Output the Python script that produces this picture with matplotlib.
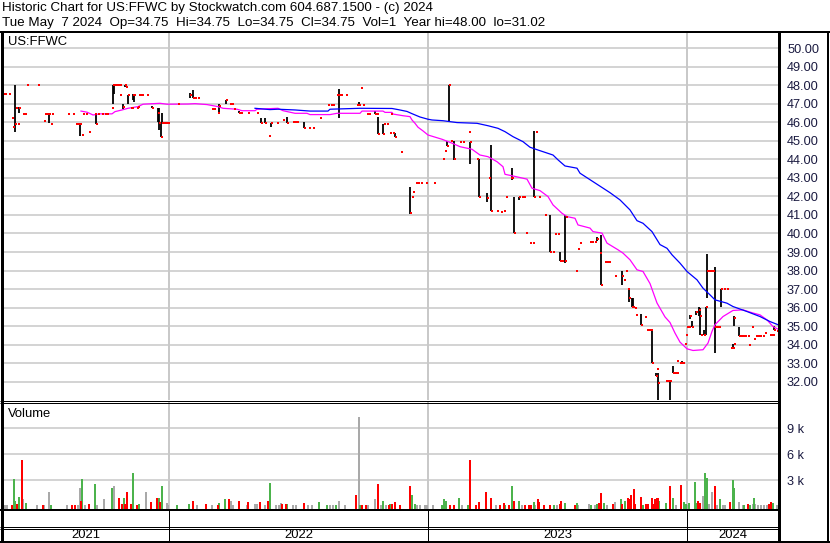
import matplotlib
matplotlib.use("Agg")
import matplotlib.pyplot as plt
from matplotlib.lines import Line2D

plt.rcParams['font.family'] = ['Liberation Sans', 'DejaVu Sans']

# ---------------- data (x = trading-day index) ----------------
title_line1 = "Historic Chart for US:FFWC by Stockwatch.com 604.687.1500 - (c) 2024"
title_line2 = "Tue May  7 2024  Op=34.75  Hi=34.75  Lo=34.75  Cl=34.75  Vol=1  Year hi=48.00  lo=31.02"
symbol = "US:FFWC"

years = ["2021", "2022", "2023", "2024"]
year_starts = [3, 169, 428, 687]
year_end = 778

price_ticks = [32, 33, 34, 35, 36, 37, 38, 39, 40, 41, 42, 43, 44, 45, 46, 47, 48, 49, 50]
vol_ticks = [3, 6, 9]

# days with a single trade price (high = low = close)
tick_day = [3, 5, 9, 12, 13, 16, 18, 23, 25, 27, 38, 44, 45, 47, 51, 52, 68, 73, 76, 78,
            82, 83, 86, 89, 95, 98, 102, 105, 107, 112, 116, 118, 120, 120, 126, 131, 132,
            137, 138, 139, 140, 142, 147, 164, 166, 168, 178, 195, 198, 212, 214, 218, 230,
            232, 234, 241, 248, 257, 269, 277, 283, 293, 295, 297, 309, 313, 320, 328, 331,
            333, 337, 341, 346, 357, 361, 363, 367, 369, 377, 384, 387, 391, 390, 393, 401,
            412, 413, 416, 418, 421, 426, 434, 443, 445, 451, 460, 463, 469, 477, 489, 497,
            501, 504, 506, 511, 522, 524, 526, 530, 533, 536, 539, 545, 553, 555, 558, 562,
            566, 576, 578, 580, 590, 592, 595, 600, 605, 607, 609, 615, 624, 626, 628, 635,
            636, 645, 647, 649, 651, 657, 666, 668, 675, 677, 677, 680, 683, 685, 686, 687,
            689, 701, 709, 711, 713, 717, 719, 724, 727, 731, 734, 741, 743, 745, 748, 749,
            752, 754, 756, 758, 760, 763, 765, 770, 772, 773, 777]
tick_close = [47.5, 47.5, 47.5, 46.25, 45.76, 46.77, 45.88, 46.46, 46.46, 48.0, 48.0, 46.08,
              46.46, 46.46, 45.88, 46.46, 46.46, 46.46, 45.88, 45.88, 45.31, 46.46, 46.46,
              45.49, 46.46, 46.46, 46.46, 46.46, 46.46, 46.77, 48.0, 48.0, 48.0, 47.47, 47.9,
              46.75, 46.77, 46.75, 46.8, 47.47, 47.47, 47.47, 47.47, 45.98, 45.98, 45.98,
              47.0, 47.32, 47.32, 46.71, 46.71, 46.48, 46.97, 46.97, 46.7, 46.48, 46.48,
              46.48, 45.26, 45.98, 46.12, 46.01, 46.01, 46.01, 45.69, 45.69, 46.25, 46.93,
              46.93, 46.93, 47.47, 47.47, 47.47, 46.93, 47.86, 46.93, 46.44, 46.44, 46.44,
              45.89, 45.89, 46.44, 45.4, 45.4, 44.41, 41.99, 42.24, 42.74, 42.74, 42.74,
              42.74, 42.74, 44.0, 44.47, 45.0, 44.95, 44.95, 45.49, 44.02, 42.98, 41.23,
              41.15, 41.23, 41.99, 42.98, 41.95, 41.95, 40.02, 39.51, 39.51, 45.49, 41.99,
              40.97, 38.99, 39.98, 39.98, 38.49, 40.88, 38.0, 39.17, 39.51, 39.53, 39.53,
              39.53, 38.97, 38.47, 38.47, 38.47, 37.72, 37.5, 37.98, 37.0, 35.97, 35.61,
              35.49, 34.77, 34.77, 34.77, 32.7, 32.02, 32.02, 32.5, 32.5, 33.1, 33.0, 33.0,
              34.03, 34.5, 34.98, 34.98, 34.54, 38.0, 38.0, 38.0, 34.98, 34.98, 37.0, 37.0,
              33.82, 34.05, 34.48, 34.48, 34.48, 34.48, 34.0, 34.98, 34.3, 34.48, 34.48,
              34.48, 34.48, 34.63, 34.54, 34.54, 34.5, 34.75]

# days with a high-low range
bar_day = [15, 19, 49, 80, 96, 113, 114, 123, 125, 128, 133, 134, 152, 158, 159, 161, 162,
           190, 193, 219, 226, 239, 261, 265, 271, 287, 304, 339, 359, 375, 378, 383, 395,
           410, 449, 447, 454, 470, 479, 487, 491, 512, 514, 519, 534, 550, 560, 565, 597,
           601, 622, 629, 632, 633, 641, 652, 656, 658, 670, 673, 682, 690, 692, 696, 699,
           700, 704, 706, 707, 715, 721, 733, 734, 739, 774]
bar_high = [48.0, 46.8, 46.46, 45.88, 46.46, 48.0, 48.0, 47.0, 48.0, 47.47, 47.5, 47.5, 46.9,
            46.77, 46.77, 45.98, 46.48, 47.6, 47.74, 46.97, 47.2, 46.6, 46.2, 46.2, 45.98,
            46.3, 46.0, 47.77, 47.1, 46.6, 46.3, 45.89, 45.4, 42.5, 48.0, 45.0, 45.0, 44.95,
            44.02, 42.2, 44.77, 43.52, 41.99, 41.99, 45.53, 41.0, 39.02, 41.0, 39.8, 39.93,
            38.0, 37.0, 36.53, 36.53, 35.67, 34.77, 32.5, 32.47, 32.02, 32.83, 33.1, 35.6,
            35.3, 35.8, 36.03, 35.97, 34.8, 36.03, 38.9, 38.18, 37.0, 34.05, 35.56, 34.98,
            35.0]
bar_low = [45.45, 46.5, 45.95, 45.25, 45.88, 47.0, 47.5, 46.7, 47.9, 47.0, 47.2, 47.1, 46.75,
           46.03, 45.6, 45.22, 45.98, 47.3, 47.32, 46.48, 46.97, 46.48, 45.98, 45.98, 45.76,
           45.98, 45.69, 46.25, 46.93, 46.44, 45.38, 45.38, 45.22, 41.06, 46.03, 44.7, 43.97,
           43.73, 41.99, 41.72, 41.23, 42.89, 40.02, 41.8, 41.99, 38.99, 38.49, 38.4, 39.6,
           37.23, 37.23, 36.3, 36.03, 36.0, 35.08, 33.0, 32.34, 31.02, 31.02, 32.47, 32.95,
           35.4, 34.98, 35.6, 35.53, 34.53, 34.54, 34.54, 36.5, 33.55, 36.03, 33.82, 35.02,
           34.48, 34.8]
bar_close = [45.88, 46.77, 46.46, 45.88, 45.88, 48.0, 48.0, 46.8, 48.0, 47.47, 47.47, 47.47,
             46.75, 46.48, 45.94, 45.22, 45.98, 47.47, 47.32, 46.9, 47.2, 46.48, 45.98, 45.98,
             45.98, 45.98, 45.69, 47.47, 46.93, 46.44, 45.38, 45.38, 45.22, 41.09, 48.0, 44.7,
             44.0, 44.95, 41.99, 41.9, 41.23, 42.98, 40.02, 41.95, 41.99, 38.99, 38.49, 38.49,
             39.71, 37.23, 37.72, 36.5, 36.03, 36.03, 35.08, 33.0, 32.34, 31.96, 32.02, 32.5,
             33.0, 35.53, 34.98, 35.79, 35.88, 35.53, 34.54, 36.03, 38.0, 34.98, 37.0, 33.82,
             35.45, 34.48, 34.8]

# moving averages
ma_fast_day = [81, 87, 93, 100, 112, 115, 122, 128, 138, 143, 160, 167, 188, 195, 207, 218,
               223, 237, 242, 255, 257, 278, 283, 295, 307, 310, 330, 337, 360, 362, 383, 385,
               392, 393, 403, 410, 412, 415, 418, 423, 428, 442, 452, 460, 472, 480, 488, 497,
               503, 505, 513, 527, 532, 540, 548, 553, 562, 567, 575, 578, 590, 593, 602, 607,
               618, 623, 630, 637, 643, 650, 657, 665, 670, 675, 680, 687, 693, 703, 708, 712,
               715, 723, 733, 743, 753, 760, 767, 773, 778]
ma_fast_val = [46.6, 46.54, 46.39, 46.45, 46.45, 46.57, 46.66, 46.75, 46.84, 46.97, 47.02,
               46.97, 46.98, 47.0, 46.95, 46.84, 46.75, 46.7, 46.62, 46.62, 46.7, 46.75, 46.62,
               46.48, 46.48, 46.41, 46.41, 46.48, 46.48, 46.6, 46.6, 46.53, 46.53, 46.44, 46.35,
               46.3, 46.12, 45.94, 45.73, 45.53, 45.31, 45.08, 44.87, 44.68, 44.54, 44.23, 44.14,
               43.87, 43.6, 43.19, 43.1, 42.93, 42.44, 42.31, 41.99, 41.54, 41.09, 40.91, 40.82,
               40.46, 40.29, 40.1, 40.02, 39.48, 39.12, 38.94, 38.58, 38.04, 37.95, 37.3, 36.25,
               35.5, 35.2, 34.63, 34.14, 33.78, 33.69, 33.73, 34.09, 34.72, 35.08, 35.52, 35.85,
               35.88, 35.71, 35.61, 35.34, 34.98, 34.84]
ma_slow_day = [255, 270, 278, 295, 310, 328, 330, 360, 392, 398, 407, 412, 420, 428, 432, 443,
               457, 477, 488, 498, 505, 513, 523, 530, 538, 553, 558, 565, 577, 580, 590, 600,
               610, 620, 630, 637, 643, 652, 660, 667, 672, 680, 687, 697, 703, 710, 715, 727,
               733, 747, 760, 770, 778]
ma_slow_val = [46.75, 46.68, 46.7, 46.66, 46.6, 46.6, 46.7, 46.75, 46.74, 46.68, 46.58, 46.46,
               46.28, 46.16, 46.12, 46.08, 45.98, 45.94, 45.81, 45.67, 45.49, 45.22, 44.95,
               44.65, 44.5, 44.23, 43.97, 43.64, 43.52, 43.25, 42.9, 42.55, 42.2, 41.81, 41.27,
               40.69, 40.55, 40.1, 39.4, 39.2, 38.85, 38.4, 37.95, 37.5, 37.05, 36.69, 36.42,
               36.24, 36.06, 35.79, 35.52, 35.25, 35.08]

# volume (thousands of shares), split by day direction
vol_up_day = [14, 15, 19, 26, 51, 82, 95, 112, 124, 133, 139, 159, 162, 177, 189, 219, 225,
              270, 287, 319, 327, 336, 360, 383, 390, 412, 415, 442, 444, 446, 459, 468, 505,
              512, 519, 534, 554, 565, 577, 591, 597, 604, 621, 625, 643, 659, 666, 673, 684,
              686, 689, 695, 697, 705, 707, 720, 733, 734, 744, 750, 754, 773]
vol_up_k = [3.1, .6, 1.1, .4, .2, 3.2, 2.6, 2.1, 1.0, 3.8, .3, 1.0, 2.3, .15, .3, .4, .9,
            2.7, .3, .5, .2, .15, .15, .65, .3, 1.3, .3, .2, .8, .65, 1.0, .2, .15,
            2.3, .65, .5, .2, .4, .4, .2, .3, .4, .9, .65, .2, .6, .4, 1.0, .5,
            .3, .4, 2.8, .4, 3.9, 3.3, .9, 3.0, 2.15, .15, .2, 1.0, .4]
vol_down_day = [12, 17, 22, 43, 72, 75, 81, 89, 119, 122, 125, 127, 131, 137, 151, 157, 160,
                193, 206, 218, 229, 239, 248, 260, 268, 282, 286, 304, 356, 362, 366, 378,
                389, 392, 395, 400, 410, 450, 454, 470, 476, 479, 486, 491, 500, 504, 509,
                514, 525, 529, 531, 538, 539, 544, 550, 560, 561, 575, 599, 601, 613, 622,
                628, 629, 631, 634, 635, 641, 646, 648, 652, 653, 655, 657, 658, 670, 681,
                698, 700, 715, 730, 748, 769, 771]
vol_down_k = [.2, .25, 5.4, .2, .2, .2, .6, .3, 1.0, .3, .3, 1.6, .3, .2, .5, 1.0, .5,
              .6, .3, .15, .8, .6, .5, .5, .6, .3, .3, .4, 1.3, .15, .15, 2.6,
              .15, .3, .5, .15, 2.3, .2, .2, 5.4, .2, .5, 1.7, 1.0, .15, .4, .2,
              .65, .15, .15, .15, .9, .5, .2, .2, .3, .65, .2, .4, 1.5, .3, .25,
              1.0, .8, 1.35, 2.0, .3, 1.1, .3, .3, 1.0, .3, .8, 1.0, 1.0, 2.4, 2.5,
              .65, .4, 2.4, .5, .3, .3, .5]
vol_flat_day = [1, 3, 5, 7, 23, 37, 44, 49, 67, 78, 80, 85, 97, 104, 114, 146, 167, 168, 197,
                212, 231, 233, 247, 255, 257, 265, 276, 279, 281, 293, 296, 308, 312, 330,
                333, 339, 345, 359, 368, 375, 381, 386, 417, 420, 425, 427, 433, 462, 496,
                522, 535, 557, 578, 589, 595, 607, 615, 676, 687, 703, 709, 712, 717, 723,
                725, 739, 743, 753, 755, 758, 761, 764, 767, 777]
vol_flat_k = [.15, .15, .15, .15, .8, .15, .15, 1.7, .15, .2, 2.1, .15, .15, .9, 2.4, 1.7, .4,
              .2, .15, .2, .6, .15, .2, .3, .3, .15, .2, .2, .4, .15, .15, .15, .15, .15,
              .15, .65, .15, 10.35, .15, .8, .15, .15, .15, .15, .15, .15, .15, .15, .2,
              .15, .15, .15, .2, .3, .2, .15, .5, .15, .15, 1.2, .3, 1.6, .15, .15,
              .15, .5, .15, .3, .3, .15, .15, .15, .15, .15]

# ---------------- layout helpers ----------------
W, H = 830, 543
fig = plt.figure(figsize=(W / 100, H / 100), dpi=100)


def rect(l, t, r, b):
    return [l / W, 1 - b / H, (r - l) / W, (b - t) / H]


def fline(x0, y0, x1, y1, lw=1.0, color="black"):
    fig.add_artist(Line2D([x0 / W, x1 / W], [1 - y0 / H, 1 - y1 / H], lw=lw * 0.72,
                          color=color, transform=fig.transFigure, solid_capstyle="butt"))


GRID = "#c8c8c8"
LBL = "#1a1a40"
FS_HEAD = 9.6
FS = 9.2

# header
fig.text(2 / W, 1 - 8.5 / H, title_line1, fontsize=FS_HEAD, va="center", ha="left",
         color="black")
fig.text(2 / W, 1 - 23 / H, title_line2, fontsize=FS_HEAD, va="center", ha="left",
         color="black")

# ---------------- price panel ----------------
ax = fig.add_axes(rect(3, 33, 778, 400))
ax.set_xlim(3, year_end)
ax.set_ylim(31.02, 50.81)
for p in price_ticks:
    ax.axhline(p, color=GRID, lw=1.1, zorder=0)
for xs in year_starts[1:]:
    ax.axvline(xs, color=GRID, lw=1.4, zorder=0)

ax.vlines(bar_day, bar_low, bar_high, color="black", lw=1.3, zorder=2)
ax.plot(ma_fast_day, ma_fast_val, color="#ff00ff", lw=0.9, zorder=3)
ax.plot(ma_slow_day, ma_slow_val, color="#0000ff", lw=0.9, zorder=3)
ax.scatter([d + 0.6 for d in tick_day], tick_close, marker="s", s=3.5, color="#ff0000",
           linewidths=0, zorder=4)
ax.scatter([d + 0.6 for d in bar_day], bar_close, marker="s", s=3.5, color="#ff0000",
           linewidths=0, zorder=4)

ax.set_xticks([])
ax.yaxis.tick_right()
ax.set_yticks(price_ticks)
ax.set_yticklabels([f"{p:.2f}" for p in price_ticks])
ax.tick_params(axis="y", length=0, pad=6.5, labelsize=FS, labelcolor=LBL)
for s in ax.spines.values():
    s.set_visible(False)
ax.text(5 / 775, 1 - 8.7 / 367, symbol, transform=ax.transAxes, fontsize=9.4,
        va="center", ha="left", color="black")

# ---------------- volume panel ----------------
av = fig.add_axes(rect(3, 402, 778, 510))
av.set_xlim(3, year_end)
av.set_ylim(-0.42, 12.03)
for v in vol_ticks:
    av.axhline(v, color=GRID, lw=1.1, zorder=0)
for xs in year_starts[1:]:
    av.axvline(xs, color=GRID, lw=1.4, zorder=0)
for days, ks, col in [(vol_flat_day, vol_flat_k, "#a9a9a9"),
                      (vol_up_day, vol_up_k, "#4cb34c"),
                      (vol_down_day, vol_down_k, "#ff0000")]:
    av.bar(days, [k + 0.42 for k in ks], bottom=-0.42, width=1.7, color=col,
           linewidth=0, zorder=2)
av.set_xticks([])
av.yaxis.tick_right()
av.set_yticks(vol_ticks)
av.set_yticklabels([f"{v} k" for v in vol_ticks])
av.tick_params(axis="y", length=0, pad=6.5, labelsize=FS, labelcolor=LBL)
for s in av.spines.values():
    s.set_visible(False)
av.text(8, 10.7, "Volume", fontsize=9.4, va="center", ha="left", color="black")

# ---------------- year row ----------------
ay = fig.add_axes(rect(3, 528, 778, 541))
ay.set_xlim(3, year_end)
ay.set_ylim(0, 1)
ay.axis("off")
bounds = year_starts + [year_end]
for i, y in enumerate(years):
    ay.text((bounds[i] + bounds[i + 1]) / 2, 0.45, y, ha="center", va="center",
            fontsize=9.4, color="black")

# ---------------- frame lines ----------------
fline(0, 32, W, 32, lw=2)
fline(1.5, 31, 1.5, 542, lw=3)
fline(779, 31, 779, 542, lw=3)
fline(828, 31, 828, 542, lw=2)
fline(0, 541.5, W, 541.5, lw=2)
fline(0, 400.5, 779, 400.5, lw=1)
fline(0, 403, 779, 403, lw=1)
fline(0, 510, 779, 510, lw=2)
fline(0, 526.5, 779, 526.5, lw=1)
fline(0, 528.5, 779, 528.5, lw=1)
for xs in year_starts[1:]:
    fline(xs, 510, xs, 541, lw=1)

fig.savefig("out.png", dpi=100)
